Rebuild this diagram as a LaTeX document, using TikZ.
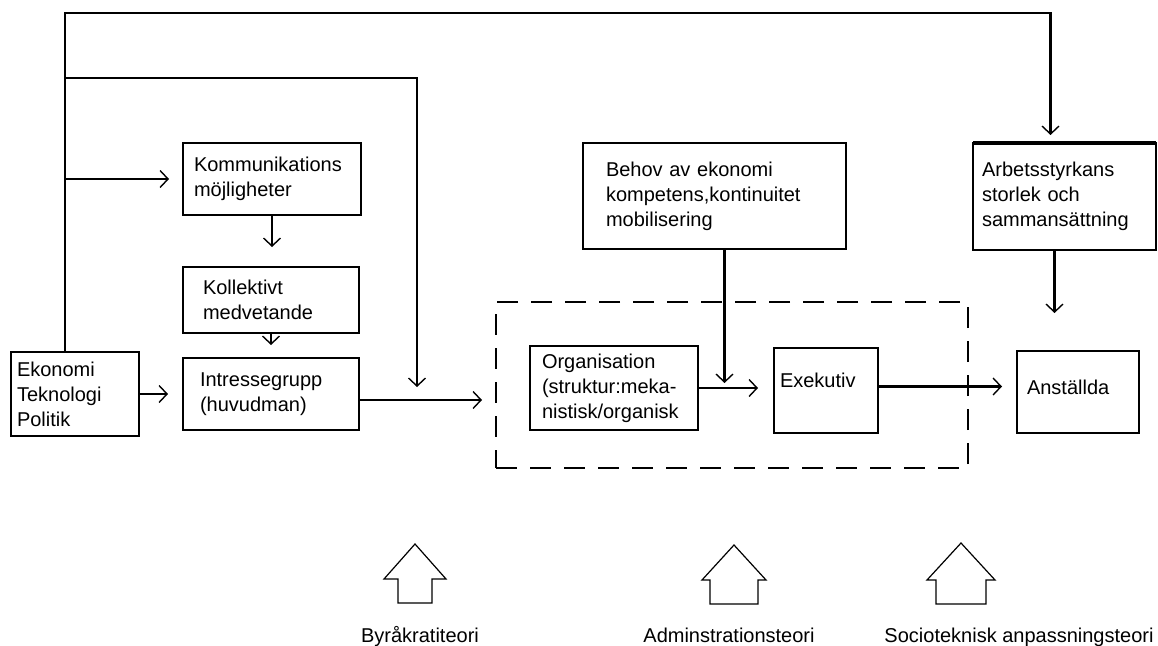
\documentclass[tikz,border=0pt]{standalone}
\usepackage{fontspec}
\setmainfont{Liberation Sans}
\usetikzlibrary{arrows.meta}

\begin{document}
\begin{tikzpicture}[x=1pt,y=-1pt,
    ruta/.style n args={3}{draw, line width=2.8pt, anchor=north west, align=left,
        outer sep=0pt, minimum width=#1, minimum height=#2, inner xsep=#3,
        inner ysep=0pt, text width=#1-2*#3, font=\fontsize{20}{25}\selectfont},
    streckad/.style={draw, line width=2.6pt, dash pattern=on 21pt off 13pt,
        anchor=north west, outer sep=0pt},
    pil/.style={line width=2.8pt, -{Straight Barb[length=8pt,width=17pt,line width=1.4pt]}},
    teori/.style={line width=1.2pt},
    etikett/.style={anchor=base, font=\fontsize{20}{25}\selectfont}]

    \useasboundingbox (0,0) rectangle (1158,645);

    %Rutor vänster
    \node[ruta={128pt}{84pt}{6pt}] (ekon) at (11,352) {Ekonomi\\Teknologi\\Politik};
    \node[ruta={178pt}{72pt}{11pt}] (komm) at (183,143) {Kommunikations\\möjligheter};
    \node[ruta={176pt}{66pt}{20pt}] (koll) at (183,267) {Kollektivt\\medvetande};
    \node[ruta={176pt}{72pt}{17pt}] (intr) at (183,358) {Intressegrupp\\(huvudman)};

    %Rutor höger
    \node[ruta={263pt}{106pt}{23pt}] (behov) at (583,143) {Behov av ekonomi\\kompetens,kontinuitet\\mobilisering};
    \node[ruta={183pt}{107pt}{9pt}] (arb) at (973,143) {Arbetsstyrkans\\storlek och\\sammansättning};
    \draw[line width=4.5pt] (arb.north west) -- (arb.north east);
    \node[streckad, minimum width=472pt, minimum height=166pt] (ramme) at (496,302) {};
    \node[ruta={168pt}{84pt}{12pt}] (org) at (530,346) {Organisation\\(struktur:meka-\\nistisk/organisk};
    \node[ruta={104pt}{85pt}{6pt}, text depth=20pt] (exe) at (774,348) {Exekutiv};
    \node[ruta={122pt}{82pt}{10pt}, text depth=10pt] (anst) at (1017,351) {Anställda};

    %Linjer uppe
    \coordinate (topp) at (65,13);
    \coordinate (gren) at (65,78);
    \coordinate (mot) at (417,400);
    \draw[pil, shorten >=8pt] (ekon.north -| topp) -- (topp) -| ([xshift=-14pt]arb.north);
    \draw[pil, shorten >=13pt] (gren) -| (mot);
    \draw[pil, shorten >=14pt] (gren |- komm.west) -- (komm.west);

    %Pilar
    \draw[pil, shorten >=20pt] (komm.south) -- (komm.south |- koll.north);
    \draw[pil, shorten >=13pt] (koll.south) -- (koll.south |- intr.north);
    \draw[pil, shorten >=15pt] (ekon.east) -- (ekon.east -| intr.west);
    \draw[pil, shorten >=14pt] ([yshift=-6pt]intr.east) -- ([yshift=-6pt]intr.east -| ramme.west);
    \draw[pil, shorten >=5pt] ([xshift=10pt]behov.south) -- ([xshift=10pt]behov.south |- org.east);
    \draw[pil, shorten >=16pt] (org.east) -- (org.east -| exe.west);
    \draw[pil, shorten >=15pt] ([yshift=4pt]exe.east) -- ([yshift=4pt]exe.east -| anst.west);
    \draw[pil, shorten >=38pt] ([xshift=-10pt]arb.south) -- ([xshift=-10pt]arb.south |- anst.north);

    %Teoripilar
    \draw[teori] (415,544) -- ++(31,35) -- ++(-14,0) -- ++(0,24) -- ++(-34,0) -- ++(0,-24) -- ++(-14,0) -- cycle;
    \draw[teori] (734,545) -- ++(32,35) -- ++(-8,0) -- ++(0,24) -- ++(-48,0) -- ++(0,-24) -- ++(-8,0) -- cycle;
    \draw[teori] (961,543) -- ++(34,37) -- ++(-9,0) -- ++(0,24) -- ++(-50,0) -- ++(0,-24) -- ++(-9,0) -- cycle;

    %Etiketter
    \node[etikett] (byr) at (420,642) {Byråkratiteori};
    \node[etikett] (adm) at (729,642) {Adminstrationsteori};
    \node[etikett] (soc) at (1019,642) {Socioteknisk anpassningsteori};

\end{tikzpicture}
\end{document}
